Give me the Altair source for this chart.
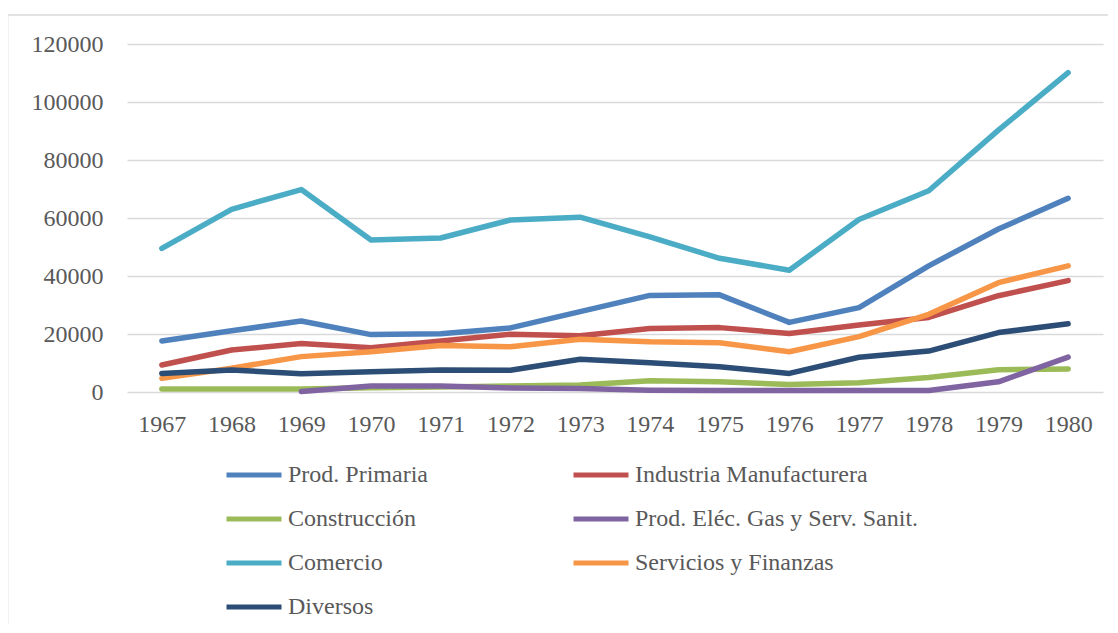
import altair as alt
import pandas as pd

years = [str(y) for y in range(1967, 1981)]

series = [
    "Prod. Primaria",
    "Industria Manufacturera",
    "Construcción",
    "Prod. Eléc. Gas y Serv. Sanit.",
    "Comercio",
    "Servicios y Finanzas",
    "Diversos",
]
colors = ["#4F81BD", "#C0504D", "#9BBB59", "#8064A2", "#4BACC6", "#F79646", "#2C4D75"]

prod_primaria = [17600, 21100, 24500, 19800, 20100, 22100, 27700, 33300, 33500, 24000, 29100, 43500, 56200, 66800]
industria = [9300, 14500, 16700, 15300, 17600, 19900, 19400, 21900, 22200, 20200, 23100, 25700, 33200, 38400]
construccion = [1000, 1000, 1000, 1500, 1700, 2100, 2400, 3900, 3500, 2600, 3200, 5000, 7700, 7900]
prod_elec = [None, None, 200, 2100, 2100, 1400, 1200, 600, 500, 500, 500, 500, 3500, 12000]
comercio = [49500, 63000, 69800, 52400, 53100, 59300, 60300, 53500, 46100, 42000, 59500, 69400, 90300, 110100]
servicios = [4700, 8200, 12200, 13900, 16000, 15600, 18200, 17300, 17000, 13900, 19100, 26800, 37700, 43500]
diversos = [6400, 7600, 6300, 7000, 7600, 7500, 11300, 10100, 8700, 6400, 12000, 14100, 20500, 23500]

values = [prod_primaria, industria, construccion, prod_elec, comercio, servicios, diversos]

rows = []
for s, vals in zip(series, values):
    for y, v in zip(years, vals):
        if v is not None:
            rows.append({"year": y, "serie": s, "value": v})
df = pd.DataFrame(rows)

FONT = "Liberation Serif"
TXT = "#595959"

lines = alt.Chart(df).mark_line(strokeWidth=5.5, strokeCap="round", strokeJoin="round").encode(
    x=alt.X("year:O", sort=years,
            scale=alt.Scale(type="point", padding=0.5),
            axis=alt.Axis(title=None, labelAngle=0, ticks=False, domain=False, grid=False,
                          labelPadding=20, labelFont=FONT, labelFontSize=24, labelColor=TXT)),
    y=alt.Y("value:Q",
            scale=alt.Scale(domain=[0, 120000], nice=False),
            axis=alt.Axis(title=None, values=[0, 20000, 40000, 60000, 80000, 100000, 120000],
                          format="d", ticks=False, domain=False, grid=True,
                          gridColor="#D9D9D9", gridWidth=1.5,
                          labelPadding=24, labelFont=FONT, labelFontSize=24, labelColor=TXT)),
    color=alt.Color("serie:N", sort=series,
                    scale=alt.Scale(domain=series, range=colors),
                    legend=alt.Legend(title=None, orient="none", legendX=97, legendY=401,
                                      direction="horizontal",
                                      columns=2, columnPadding=135, rowPadding=2,
                                      symbolType="stroke", symbolSize=3025, symbolStrokeWidth=5,
                                      labelFont=FONT, labelFontSize=24, labelColor=TXT,
                                      labelOffset=4, labelLimit=400)),
)

border = alt.Chart(pd.DataFrame({"a": [0]})).mark_rect(
    fill=None, stroke="#D9D9D9", strokeWidth=1.5
).encode(
    x=alt.value(-119.4), x2=alt.value(1100), y=alt.value(-29), y2=alt.value(700)
)

chart = alt.layer(border, lines).properties(
    width=976, height=348,
    padding={"left": 119, "top": 36, "right": 5, "bottom": 232},
    autosize=alt.AutoSizeParams(type="none"),
).configure_view(stroke=None)

chart.save("out.html", embed_options={"renderer": "svg", "actions": False})
